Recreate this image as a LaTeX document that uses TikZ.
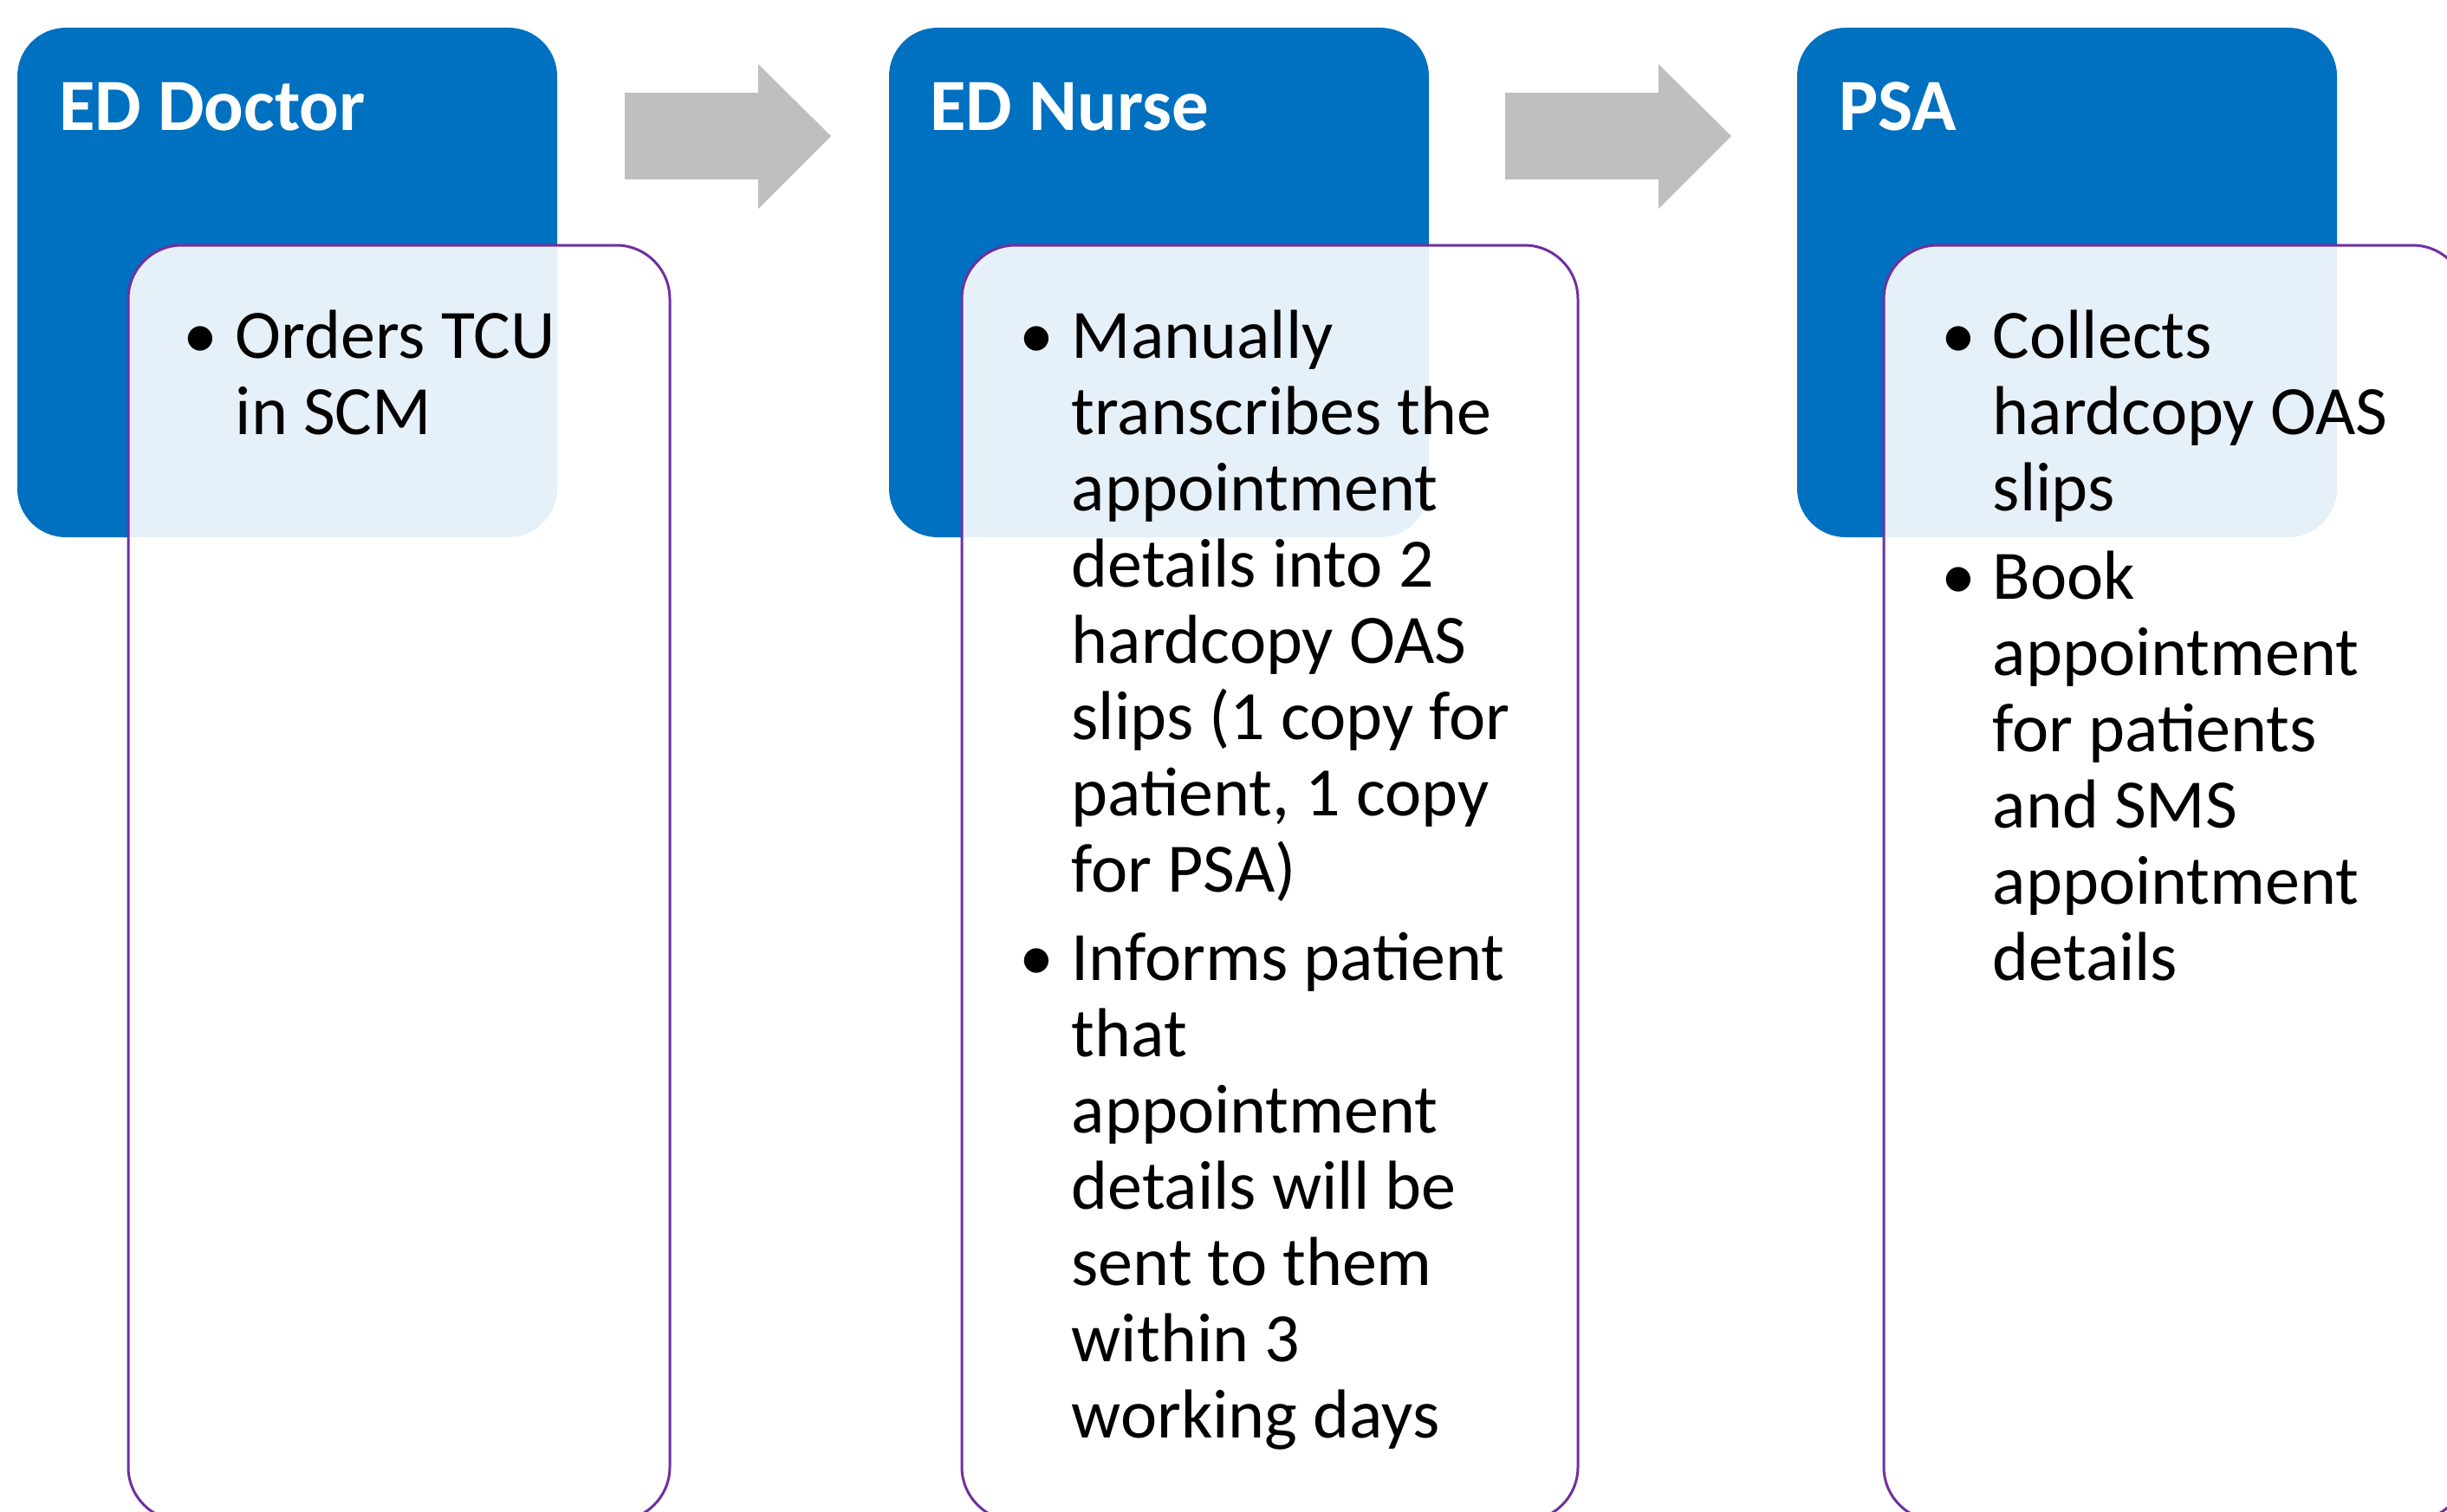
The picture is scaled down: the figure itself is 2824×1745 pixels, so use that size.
\documentclass[tikz,border=0pt]{standalone}
\usepackage{fontspec}
\setmainfont{Carlito}
\definecolor{hblue}{HTML}{0070C0}
\definecolor{cardpurple}{HTML}{7030A0}
\definecolor{arrowgray}{HTML}{BFBFBF}
\tikzset{
  head/.style={rectangle, rounded corners=56pt, fill=hblue, draw=none,
    minimum width=623pt, minimum height=588pt, anchor=north west, inner sep=0pt, outer sep=0pt},
  card/.style={rectangle, rounded corners=62pt, fill=white, fill opacity=0.9,
    draw=cardpurple, draw opacity=1, line width=3pt, minimum height=1472pt,
    anchor=north west, inner sep=0pt, outer sep=0pt},
  titletext/.style={font=\fontsize{85}{100}\selectfont\bfseries, text=white, anchor=base west, inner sep=0pt},
  bodytext/.style={font=\fontsize{80}{88}\selectfont, text=black, anchor=north west, inner sep=0pt, align=left},
  bul/.style={font=\fontsize{80}{88}\selectfont, text=black, anchor=base, inner sep=0pt},
  flow/.style={fill=arrowgray, draw=none}
}
\begin{document}
\begin{tikzpicture}[x=1pt,y=-1pt]
\clip (0,0) rectangle (2824,1745);
\fill[white] (0,0) rectangle (2824,1745);
% header boxes
\node[head] (h1) at (20,32) {};
\node[head] (h2) at (1026,32) {};
\node[head] (h3) at (2074,32) {};
% cards
\node[card, minimum width=625pt] (c1) at (148,283) {};
\node[card, minimum width=711pt] (c2) at (1110,283) {};
\node[card, minimum width=672pt] (c3) at (2174,283) {};
% titles
\node[titletext] (t1) at (68,150) {ED Doctor};
\node[titletext] (t2) at (1073,150) {ED Nurse};
\node[titletext] (t3) at (2122,150) {PSA};
% arrows
\fill[flow] (721,107) -- (875,107) -- (875,74) -- (959,157) -- (875,241) -- (875,207) -- (721,207) -- cycle;
\fill[flow] (1737,107) -- (1914,107) -- (1914,74) -- (1998,157) -- (1914,241) -- (1914,207) -- (1737,207) -- cycle;
% card 1 text
\node[bul] (b11) at (231,413) {•};
\node[bodytext] (p11) at (271.5,351.4) {\strut Orders TCU\\in SCM};
% card 2 text
\node[bul] (b21) at (1196,413) {•};
\node[bodytext] (p21) at (1236.5,351.4) {\strut Manually\\transcribes the\\appointment\\details into 2\\hardcopy OAS\\slips (1 copy for\\patient, 1 copy\\for PSA)};
\node[bul] (b22) at (1196,1131) {•};
\node[bodytext] (p22) at (1236.5,1069.4) {\strut Informs patient\\that\\appointment\\details will be\\sent to them\\within 3\\working days};
% card 3 text
\node[bul] (b31) at (2260,413) {•};
\node[bodytext] (p31) at (2299.5,351.4) {\strut Collects\\hardcopy OAS\\slips};
\node[bul] (b32) at (2260,691) {•};
\node[bodytext] (p32) at (2299.5,629.4) {\strut Book\\appointment\\for patients\\and SMS\\appointment\\details};
\end{tikzpicture}
\end{document}
